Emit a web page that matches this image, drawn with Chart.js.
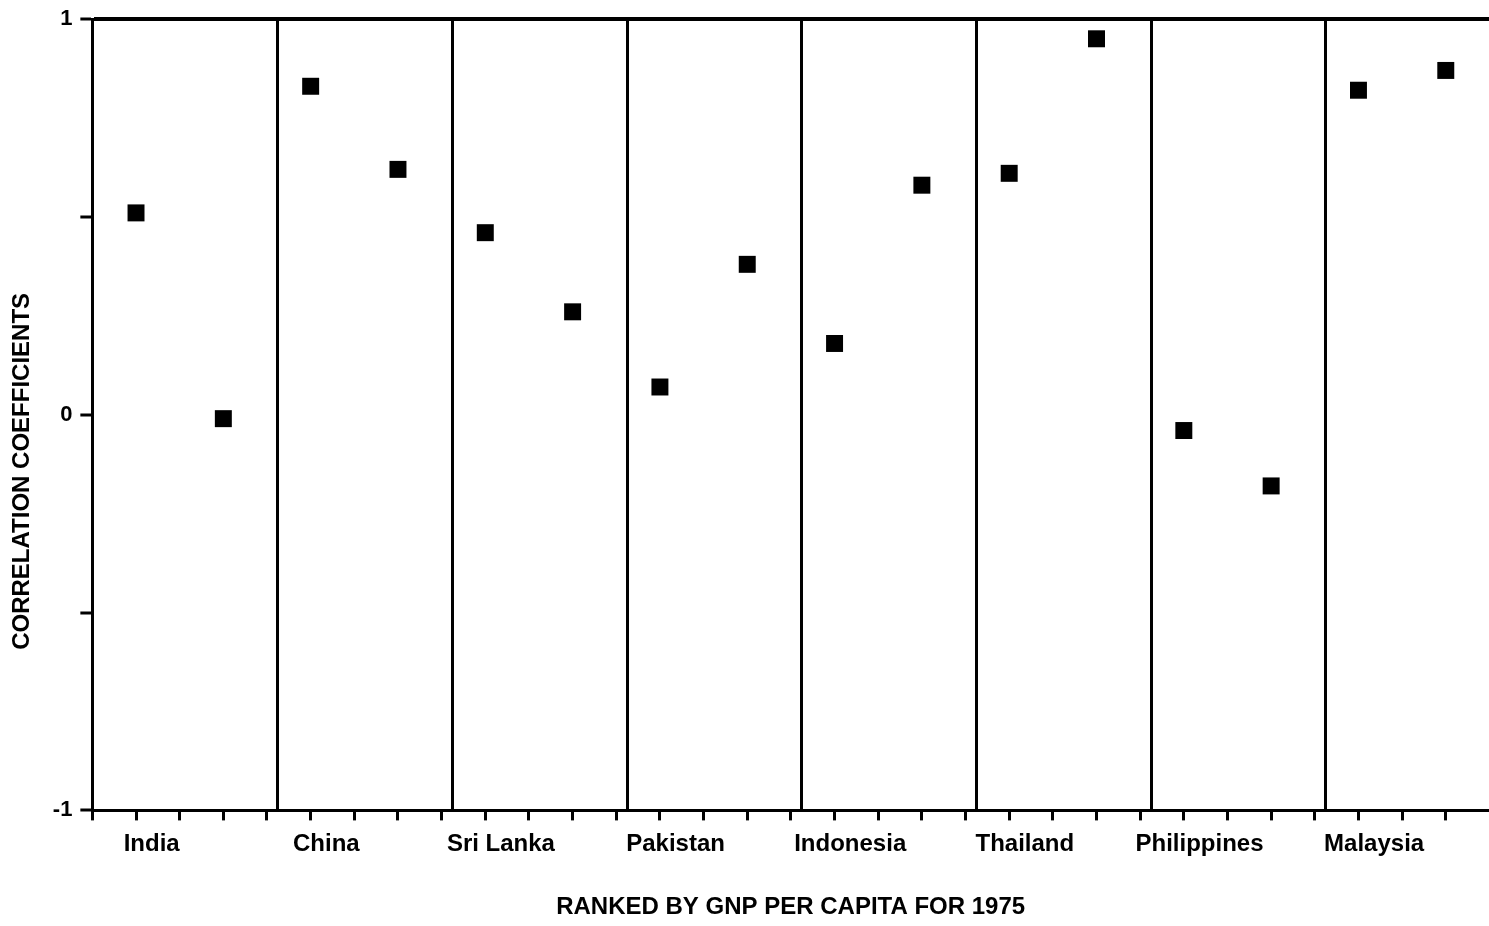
<!DOCTYPE html>
<html>
<head>
<meta charset="utf-8">
<script src="https://cdn.jsdelivr.net/npm/chart.js@4/dist/chart.umd.min.js"></script>
<style>
  html, body { margin: 0; padding: 0; background: #fff; overflow: hidden; }
  #wrap { width: 1489px; height: 926px; position: relative; }
</style>
</head>
<body>
<div id="wrap"><canvas id="myChart"></canvas></div>
<script>
// countries ranked by GNP per capita, two coefficients each
let countries = ['India', 'China', 'Sri Lanka', 'Pakistan', 'Indonesia', 'Thailand', 'Philippines', 'Malaysia'];
let firstCoef = [0.51, 0.83, 0.46, 0.07, 0.18, 0.61, -0.04, 0.82];
let secondCoef = [-0.01, 0.62, 0.26, 0.38, 0.58, 0.95, -0.18, 0.87];
let yTicks = [-1, 0, 1];

let points = [];
countries.forEach((c, i) => {
  points.push({ x: i * 4 + 1, y: firstCoef[i] });
  points.push({ x: i * 4 + 3, y: secondCoef[i] });
});

let ctx = document.getElementById('myChart').getContext('2d');
let font = 'Liberation Sans';

let myChart = new Chart(ctx, {
  type: 'scatter',
  data: {
    datasets: [{
      data: points,
      pointStyle: 'rect',
      pointRadius: 12,
      pointHoverRadius: 12,
      backgroundColor: '#000',
      borderColor: '#000',
      borderWidth: 0,
      clip: false
    }]
  },
  options: {
    responsive: true,
    maintainAspectRatio: false,
    animation: false,
    layout: { autoPadding: false, padding: { top: 0, right: 0, bottom: 4, left: 0 } },
    plugins: {
      legend: { display: false },
      tooltip: { enabled: false }
    },
    scales: {
      x: {
        type: 'linear',
        min: 0,
        max: 31.99,
        border: { display: true, color: '#000', width: 3 },
        grid: {
          color: 'rgba(0,0,0,0)',
          tickColor: '#000',
          tickWidth: 3,
          tickLength: 10
        },
        ticks: {
          stepSize: 1,
          autoSkip: false,
          includeBounds: false,
          maxRotation: 0,
          padding: 10,
          labelOffset: -28,
          color: '#000',
          font: { family: font, size: 24, weight: 'bold' },
          callback: (v) => (v % 4 === 2) ? countries[(v - 2) / 4] : ''
        },
        title: {
          display: true,
          text: 'RANKED BY GNP PER CAPITA FOR 1975',
          color: '#000',
          font: { family: font, size: 24, weight: 'bold' },
          padding: { top: 24, bottom: 0 }
        }
      },
      // panel separators between the countries
      sep: {
        type: 'linear',
        position: 'bottom',
        min: 0,
        max: 31.99,
        border: { display: false },
        ticks: { display: false },
        grid: { drawTicks: false, color: '#000', lineWidth: 3 },
        afterBuildTicks: (axis) => {
          axis.ticks = countries.slice(1).map((c, i) => ({ value: (i + 1) * 4 + 0.25 }));
        }
      },
      y: {
        min: -1,
        max: 1,
        border: { display: true, color: '#000', width: 3 },
        grid: {
          color: (c) => (c.tick && c.tick.value === 1) ? '#000' : 'rgba(0,0,0,0)',
          lineWidth: 4,
          tickColor: '#000',
          tickWidth: 3,
          tickLength: 12
        },
        ticks: {
          stepSize: 0.5,
          padding: 8,
          color: '#000',
          font: { family: font, size: 22, weight: 'bold', lineHeight: 1 },
          callback: (v) => yTicks.includes(v) ? v : ''
        },
        title: {
          display: true,
          text: 'CORRELATION COEFFICIENTS' + '\u00A0'.repeat(17),
          color: '#000',
          font: { family: font, size: 24, weight: 'bold' },
          padding: { top: 8, bottom: 8 }
        }
      }
    }
  }
});
</script>
</body>
</html>
